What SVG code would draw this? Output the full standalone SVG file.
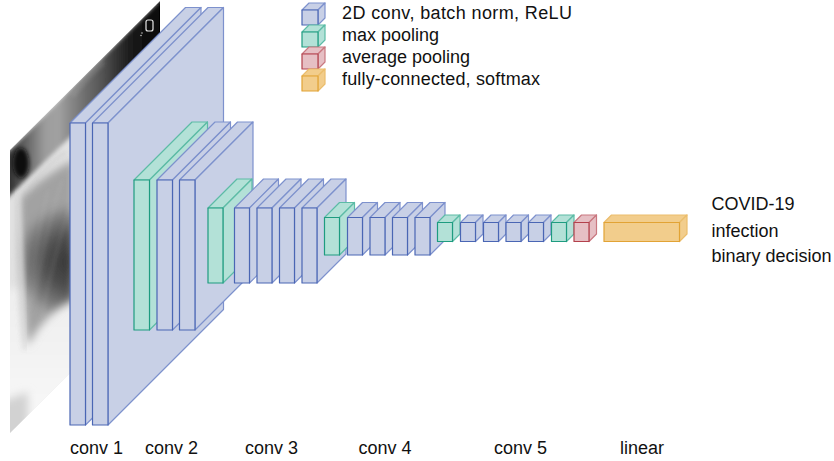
<svg xmlns="http://www.w3.org/2000/svg" width="834" height="461" viewBox="0 0 834 461">
<style>
text{font-family:"Liberation Sans",Arial,sans-serif;font-size:18px;fill:#111}
polygon,rect{stroke-width:1.2;stroke-linejoin:round}
.blue .f{fill:#c8d0e6;stroke:#4a66b4}
.blue .b{fill:#c8d0e6;stroke:#7d91cd}
.green .f{fill:#b3e1d7;stroke:#1e9c80}
.green .b{fill:#b3e1d7;stroke:#5cbca6}
.red .f{fill:#e6bfc4;stroke:#b3414c}
.red .b{fill:#e6bfc4;stroke:#c97880}
.yellow .f{fill:#f2cd8c;stroke:#e2a335}
.yellow .b{fill:#f2cd8c;stroke:#ebbd6c}
</style>
<defs>
<clipPath id="xclip"><polygon points="10,150 160,1 160,284 10,433"/></clipPath>
<filter id="bl2" x="-20%" y="-20%" width="140%" height="140%"><feGaussianBlur stdDeviation="2"/></filter>
<filter id="bl4" x="-30%" y="-30%" width="160%" height="160%"><feGaussianBlur stdDeviation="4"/></filter>
<linearGradient id="topband" gradientUnits="userSpaceOnUse" x1="10" y1="0" x2="160" y2="0">
<stop offset="0" stop-color="#333"/>
<stop offset="0.113" stop-color="#666"/>
<stop offset="0.233" stop-color="#9c9c9c"/>
<stop offset="0.32" stop-color="#a2a2a2"/>
<stop offset="0.4" stop-color="#8a8a8a"/>
<stop offset="0.5" stop-color="#6e6e6e"/>
<stop offset="0.6" stop-color="#585858"/>
<stop offset="0.7" stop-color="#383838"/>
<stop offset="0.8" stop-color="#1c1c1c"/>
<stop offset="0.9" stop-color="#0f0f0f"/>
<stop offset="1" stop-color="#060606"/>
</linearGradient>
<radialGradient id="lung" gradientUnits="userSpaceOnUse" cx="72" cy="262" r="58">
<stop offset="0" stop-color="#343434"/>
<stop offset="0.45" stop-color="#4e4e4e"/>
<stop offset="0.8" stop-color="#7c7c7c"/>
<stop offset="1" stop-color="#a2a2a2"/>
</radialGradient>
<linearGradient id="lower" gradientUnits="userSpaceOnUse" x1="0" y1="300" x2="0" y2="433">
<stop offset="0" stop-color="#efefef"/>
<stop offset="1" stop-color="#f8f8f8"/>
</linearGradient>
</defs>

<g id="xray" clip-path="url(#xclip)">
<polygon points="10,150 160,1 160,284 10,433" fill="#e2e2e2"/>
<polygon points="0,290 80,280 80,440 0,440" fill="url(#lower)" filter="url(#bl4)"/>
<polygon points="0,160 170,-10 170,40 0,205" fill="url(#topband)" filter="url(#bl2)"/>
<path d="M20,198 C32,186 50,172 74,160 L74,300 C58,306 40,322 28,346 C24,320 21,270 20,232 Z" fill="url(#lung)" filter="url(#bl4)"/>
<g stroke="#d0d0d0" stroke-width="1.6" fill="none" opacity="0.22" filter="url(#bl2)">
<path d="M62,180 C52,212 42,250 34,300"/>
<path d="M70,205 C60,238 50,272 42,318"/>
<path d="M48,190 C40,222 34,262 30,310"/>
</g>
<path d="M17,192 C21,240 21,300 25,350" stroke="#dcdcdc" stroke-width="6" fill="none" opacity="0.6" filter="url(#bl2)"/>
<path d="M28,192 C36,176 48,164 66,152" stroke="#c0c0c0" stroke-width="3" fill="none" opacity="0.45" filter="url(#bl2)"/>
<path d="M72,96 C82,84 92,72 104,62" stroke="#b0b0b0" stroke-width="4" fill="none" opacity="0.35" filter="url(#bl2)"/>
<ellipse cx="21" cy="163" rx="8" ry="15" fill="#111" filter="url(#bl2)"/>
<polygon points="0,402 28,392 28,440 0,440" fill="#d2d2d2" filter="url(#bl4)"/>
<rect x="146" y="20" width="7" height="11" rx="2" fill="none" stroke="#e8e8e8" stroke-width="0.9"/>
<circle cx="142" cy="33" r="0.7" fill="#ddd"/>
<circle cx="141" cy="35.5" r="0.7" fill="#ddd"/>
</g>

<g id="conv1">
<g class="blue"><polygon class="b" points="70,123 185.5,7.5 201,7.5 85.5,123"/><polygon class="b" points="85.5,123 201,7.5 201,309.5 85.5,425"/><rect class="f" x="70" y="123" width="15.5" height="302"/></g>
<g class="blue"><polygon class="b" points="92.5,123 208,7.5 223.5,7.5 108,123"/><polygon class="b" points="108,123 223.5,7.5 223.5,309.5 108,425"/><rect class="f" x="92.5" y="123" width="15.5" height="302"/></g>
</g>

<g id="conv2">
<g class="green"><polygon class="b" points="134,180 192,122 207.5,122 149.5,180"/><polygon class="b" points="149.5,180 207.5,122 207.5,272 149.5,330"/><rect class="f" x="134" y="180" width="15.5" height="150"/></g>
<g class="blue"><polygon class="b" points="157,180 215,122 230.5,122 172.5,180"/><polygon class="b" points="172.5,180 230.5,122 230.5,272 172.5,330"/><rect class="f" x="157" y="180" width="15.5" height="150"/></g>
<g class="blue"><polygon class="b" points="179.5,180 237.5,122 253,122 195,180"/><polygon class="b" points="195,180 253,122 253,272 195,330"/><rect class="f" x="179.5" y="180" width="15.5" height="150"/></g>
</g>

<g id="conv3">
<g class="green"><polygon class="b" points="208,208 237,179 252,179 223,208"/><polygon class="b" points="223,208 252,179 252,254 223,283"/><rect class="f" x="208" y="208" width="15" height="75"/></g>
<g class="blue"><polygon class="b" points="234.5,208 263.5,179 278.5,179 249.5,208"/><polygon class="b" points="249.5,208 278.5,179 278.5,254 249.5,283"/><rect class="f" x="234.5" y="208" width="15" height="75"/></g>
<g class="blue"><polygon class="b" points="257,208 286,179 301,179 272,208"/><polygon class="b" points="272,208 301,179 301,254 272,283"/><rect class="f" x="257" y="208" width="15" height="75"/></g>
<g class="blue"><polygon class="b" points="279.5,208 308.5,179 323.5,179 294.5,208"/><polygon class="b" points="294.5,208 323.5,179 323.5,254 294.5,283"/><rect class="f" x="279.5" y="208" width="15" height="75"/></g>
<g class="blue"><polygon class="b" points="302,208 331,179 346,179 317,208"/><polygon class="b" points="317,208 346,179 346,254 317,283"/><rect class="f" x="302" y="208" width="15" height="75"/></g>
</g>

<g id="conv4">
<g class="green"><polygon class="b" points="324.5,217.5 339.5,202.5 354.5,202.5 339.5,217.5"/><polygon class="b" points="339.5,217.5 354.5,202.5 354.5,240 339.5,255"/><rect class="f" x="324.5" y="217.5" width="15" height="37.5"/></g>
<g class="blue"><polygon class="b" points="347.5,217.5 362.5,202.5 377.5,202.5 362.5,217.5"/><polygon class="b" points="362.5,217.5 377.5,202.5 377.5,240 362.5,255"/><rect class="f" x="347.5" y="217.5" width="15" height="37.5"/></g>
<g class="blue"><polygon class="b" points="370,217.5 385,202.5 400,202.5 385,217.5"/><polygon class="b" points="385,217.5 400,202.5 400,240 385,255"/><rect class="f" x="370" y="217.5" width="15" height="37.5"/></g>
<g class="blue"><polygon class="b" points="392.5,217.5 407.5,202.5 422.5,202.5 407.5,217.5"/><polygon class="b" points="407.5,217.5 422.5,202.5 422.5,240 407.5,255"/><rect class="f" x="392.5" y="217.5" width="15" height="37.5"/></g>
<g class="blue"><polygon class="b" points="415,217.5 430,202.5 445,202.5 430,217.5"/><polygon class="b" points="430,217.5 445,202.5 445,240 430,255"/><rect class="f" x="415" y="217.5" width="15" height="37.5"/></g>
</g>

<g id="conv5">
<g class="green"><polygon class="b" points="437.5,222.5 445,215 460,215 452.5,222.5"/><polygon class="b" points="452.5,222.5 460,215 460,234 452.5,241.5"/><rect class="f" x="437.5" y="222.5" width="15" height="19"/></g>
<g class="blue"><polygon class="b" points="460.5,222.5 468,215 483,215 475.5,222.5"/><polygon class="b" points="475.5,222.5 483,215 483,234 475.5,241.5"/><rect class="f" x="460.5" y="222.5" width="15" height="19"/></g>
<g class="blue"><polygon class="b" points="483.5,222.5 491,215 506,215 498.5,222.5"/><polygon class="b" points="498.5,222.5 506,215 506,234 498.5,241.5"/><rect class="f" x="483.5" y="222.5" width="15" height="19"/></g>
<g class="blue"><polygon class="b" points="506,222.5 513.5,215 528.5,215 521,222.5"/><polygon class="b" points="521,222.5 528.5,215 528.5,234 521,241.5"/><rect class="f" x="506" y="222.5" width="15" height="19"/></g>
<g class="blue"><polygon class="b" points="528.5,222.5 536,215 551,215 543.5,222.5"/><polygon class="b" points="543.5,222.5 551,215 551,234 543.5,241.5"/><rect class="f" x="528.5" y="222.5" width="15" height="19"/></g>
<g class="green"><polygon class="b" points="551.5,222.5 559,215 574,215 566.5,222.5"/><polygon class="b" points="566.5,222.5 574,215 574,234 566.5,241.5"/><rect class="f" x="551.5" y="222.5" width="15" height="19"/></g>
<g class="red"><polygon class="b" points="574,222.5 581.5,215 596.5,215 589,222.5"/><polygon class="b" points="589,222.5 596.5,215 596.5,234 589,241.5"/><rect class="f" x="574" y="222.5" width="15" height="19"/></g>
</g>

<g id="linear">
<g class="yellow"><polygon class="b" points="604,222.5 611.5,215 687,215 679.5,222.5"/><polygon class="b" points="679.5,222.5 687,215 687,234 679.5,241.5"/><rect class="f" x="604" y="222.5" width="75.5" height="19"/></g>
</g>

<g id="connectors"></g>

<g id="legend">
<g id="legend-conv" class="blue"><polygon class="b" points="302,10 309,3 325,3 318,10"/><polygon class="b" points="318,10 325,3 325,18 318,25"/><rect class="f" x="302" y="10" width="16" height="15"/><text x="342" y="18.5" textLength="230" lengthAdjust="spacing">2D conv, batch norm, ReLU</text></g>
<g id="legend-max" class="green"><polygon class="b" points="302,32 309,25 325,25 318,32"/><polygon class="b" points="318,32 325,25 325,40 318,47"/><rect class="f" x="302" y="32" width="16" height="15"/><text x="342" y="40.5">max pooling</text></g>
<g id="legend-avg" class="red"><polygon class="b" points="302,54 309,47 325,47 318,54"/><polygon class="b" points="318,54 325,47 325,62 318,69"/><rect class="f" x="302" y="54" width="16" height="15"/><text x="342" y="62.5">average pooling</text></g>
<g id="legend-fc" class="yellow"><polygon class="b" points="302,76 309,69 325,69 318,76"/><polygon class="b" points="318,76 325,69 325,84 318,91"/><rect class="f" x="302" y="76" width="16" height="15"/><text x="342" y="84.5" textLength="198" lengthAdjust="spacing">fully-connected, softmax</text></g>
</g>

<g id="output">
<text x="711.5" y="209.5">COVID-19</text>
<text x="711.5" y="236.5">infection</text>
<text x="711.5" y="262">binary decision</text>
</g>

<g id="labels">
<text x="70" y="453.5">conv 1</text>
<text x="145" y="453.5">conv 2</text>
<text x="245" y="453.5">conv 3</text>
<text x="358.5" y="453.5">conv 4</text>
<text x="494" y="453.5">conv 5</text>
<text x="620" y="453.5">linear</text>
</g>
</svg>
